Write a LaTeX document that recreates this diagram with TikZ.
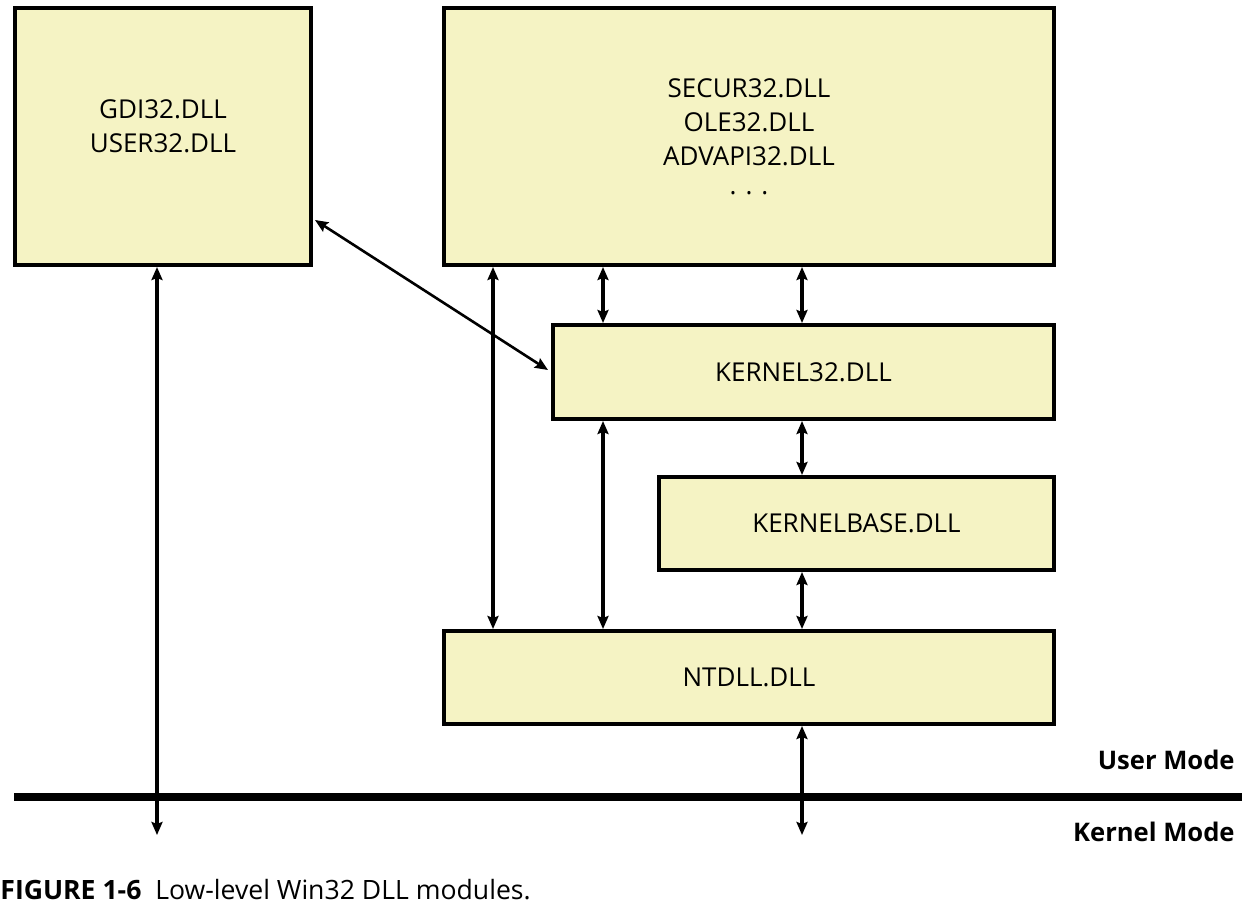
\documentclass[tikz,border=0pt]{standalone}
\usepackage{fontspec}
\setmainfont{Open Sans}
\usetikzlibrary{arrows.meta}
\definecolor{dllfill}{HTML}{F5F3C4}
\begin{document}
\begin{tikzpicture}[x=0.5pt, y=-0.5pt, >={Stealth[length=6.5pt, width=5.5pt, inset=1pt]},
        dll/.style={rectangle, draw, line width=2pt, fill=dllfill, inner sep=0pt, font=\fontsize{13}{17.2}\selectfont, align=center},
        txt/.style={inner sep=0pt, font=\fontsize{13}{17.2}\selectfont, align=center},
        link/.style={<->, line width=1.6pt},
        mode/.style={inner sep=0pt, anchor=east, font=\fontsize{12.8}{16}\selectfont\bfseries}]
    \useasboundingbox (0,0) rectangle (1242,906);
    \node[dll, minimum width=148pt, minimum height=128.5pt] (gdi) at (163,136.5) {};
    \node[txt] (gditext) at (163,126) {GDI32.DLL\\USER32.DLL};
    \node[dll, minimum width=305pt, minimum height=128.5pt] (secur) at (749,136.5) {SECUR32.DLL\\OLE32.DLL\\ADVAPI32.DLL\\[-3pt]. . .};
    \node[dll, minimum width=250.5pt, minimum height=47pt] (k32) at (803.5,372) {KERNEL32.DLL};
    \node[dll, minimum width=197.5pt, minimum height=46.5pt] (kbase) at (856.5,523.5) {KERNELBASE.DLL};
    \node[dll, minimum width=305pt, minimum height=46.5pt] (ntdll) at (749,677.5) {NTDLL.DLL};
    % user / kernel boundary
    \draw[line width=4pt] (14,797) -- (1242,797);
    \node[mode] (user) at (1235,760) {User Mode};
    \node[mode] (kernel) at (1235,832) {Kernel Mode};
    \coordinate (gk) at (157,835);
    \coordinate (nk) at (802,835);
    \coordinate (d1) at (315,220);
    \coordinate (d2) at (548,370);
    % links
    \draw[link] (157,0 |- gdi.south) -- (gk);
    \draw[link, line width=1.3pt] (d1) -- (d2);
    \draw[link] (493,0 |- secur.south) -- (493,0 |- ntdll.north);
    \draw[link] (603,0 |- secur.south) -- (603,0 |- k32.north);
    \draw[link] (802,0 |- secur.south) -- (802,0 |- k32.north);
    \draw[link] (603,0 |- k32.south) -- (603,0 |- ntdll.north);
    \draw[link] (802,0 |- k32.south) -- (802,0 |- kbase.north);
    \draw[link] (802,0 |- kbase.south) -- (802,0 |- ntdll.north);
    \draw[link] (802,0 |- ntdll.south) -- (nk);
    \node[inner sep=0pt, anchor=west, font=\fontsize{13.3}{15}\selectfont] (caption) at (0,890) {\textbf{FIGURE 1-6}\ \ Low-level Win32 DLL modules.};
\end{tikzpicture}
\end{document}
